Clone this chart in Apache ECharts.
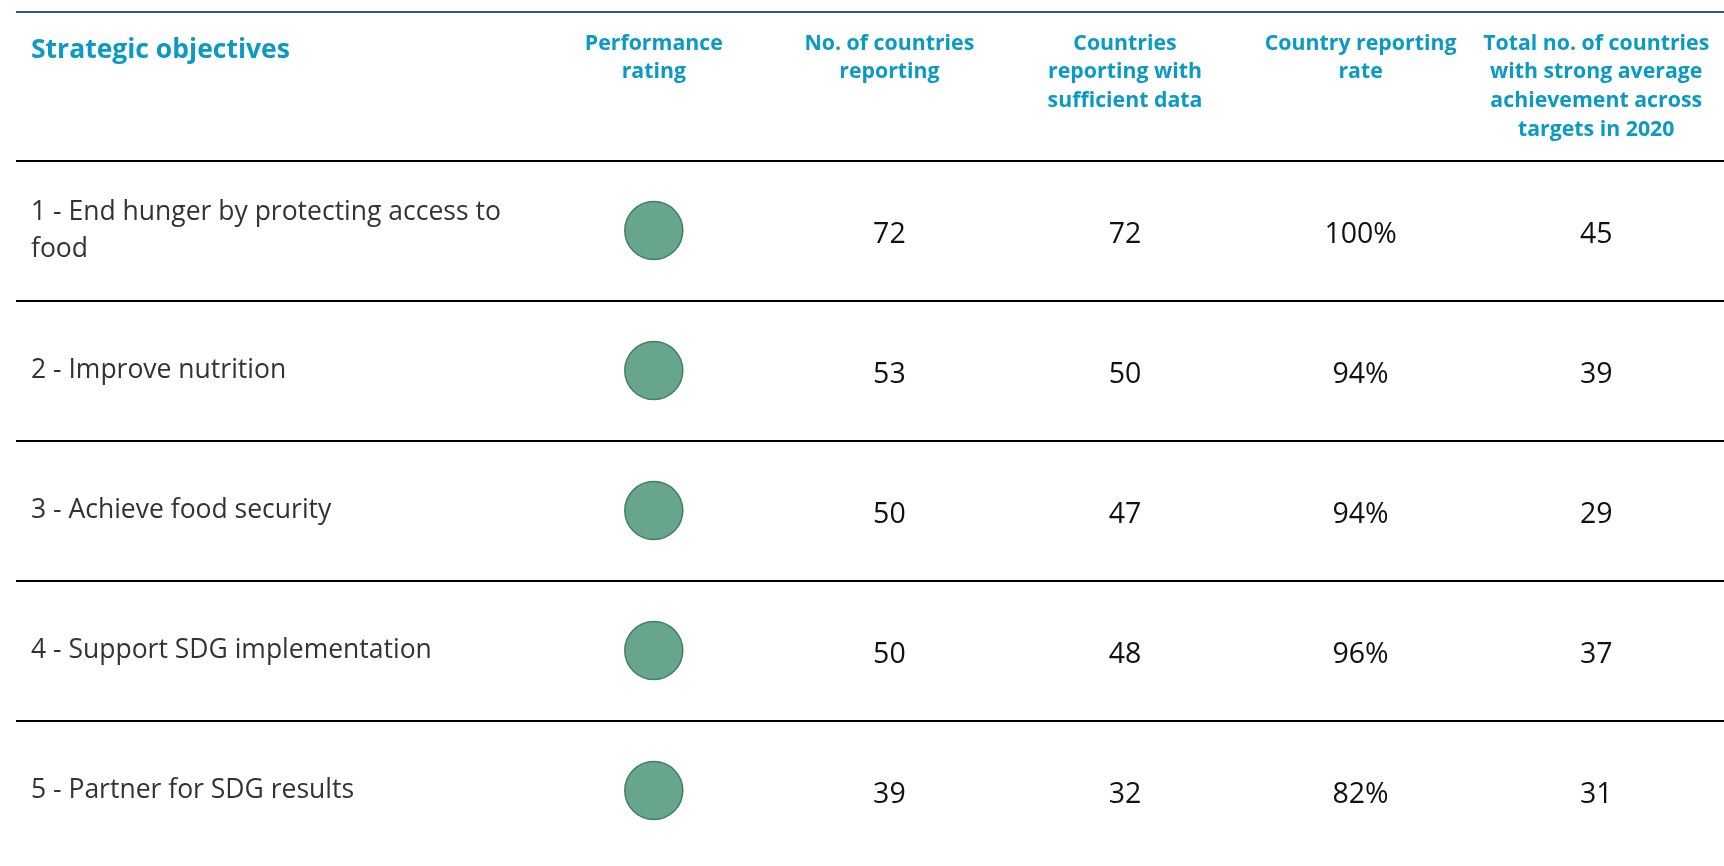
<!DOCTYPE html>
<html lang="en">

<head>
    <meta charset="UTF-8">
    <title>Strategic objectives</title>
    <style>
        html, body { margin: 0; padding: 0; background: #fff; }
        #main { width: 1724px; height: 866px; }
    </style>
    <script src="https://cdn.jsdelivr.net/npm/echarts@6/dist/echarts.min.js"></script>
</head>

<body>
<div id="main"></div>
</body>

<script type="text/javascript">
    // table data
    var objectives = [
        '1 - End hunger by protecting access to food',
        '2 - Improve nutrition',
        '3 - Achieve food security',
        '4 - Support SDG implementation',
        '5 - Partner for SDG results'
    ];
    var columns = [
        'Performance\nrating',
        'No. of countries\nreporting',
        'Countries\nreporting with\nsufficient data',
        'Country reporting\nrate',
        'Total no. of countries\nwith strong average\nachievement across\ntargets in 2020'
    ];
    var rating = ['green', 'green', 'green', 'green', 'green'];
    var reporting = [72, 53, 50, 50, 39];
    var sufficient = [72, 50, 47, 48, 32];
    var rate = [100, 94, 94, 96, 82];
    var strong = [45, 39, 29, 37, 31];

    var headColor = '#0a9ac4';
    var ratingColor = { green: '#67a68d' };

    // cells: [column, row, text]
    var cells = [];
    for (var i = 0; i < objectives.length; i++) {
        cells.push([1, i, String(reporting[i])]);
        cells.push([2, i, String(sufficient[i])]);
        cells.push([3, i, rate[i] + '%']);
        cells.push([4, i, String(strong[i])]);
    }

    var myChart = echarts.init(document.getElementById('main'));
    var option = {
        animation: false,
        backgroundColor: '#fff',
        title: {
            text: 'Strategic objectives',
            left: 31,
            top: 37,
            padding: 0,
            textStyle: {
                fontFamily: 'Open Sans',
                fontWeight: 'bold',
                fontSize: 26.5,
                color: headColor
            }
        },
        graphic: [{
            type: 'line',
            shape: { x1: 16, y1: 12, x2: 1724, y2: 12 },
            style: { stroke: '#2f5597', lineWidth: 2 }
        }],
        grid: { left: 536, right: 10, top: 160.5, bottom: 5.5 },
        xAxis: {
            type: 'category',
            position: 'top',
            data: columns,
            axisLine: { show: false },
            axisTick: { show: false },
            splitLine: { show: false },
            axisLabel: {
                interval: 0,
                verticalAlign: 'top',
                margin: 131,
                lineHeight: 28.6,
                fontFamily: 'Open Sans',
                fontWeight: 'bold',
                fontSize: 21.3,
                color: headColor
            }
        },
        yAxis: {
            type: 'category',
            inverse: true,
            data: objectives,
            axisLine: { show: false },
            axisTick: { show: false },
            splitLine: { show: false },
            axisLabel: {
                align: 'left',
                margin: 505,
                width: 490,
                overflow: 'break',
                lineHeight: 37,
                padding: [7, 0, 0, 0],
                fontFamily: 'Open Sans',
                fontSize: 26.5,
                color: '#333'
            }
        },
        series: [
            {
                // row rules
                type: 'custom',
                silent: true,
                data: objectives.map(function (d, i) { return [0, i]; }),
                renderItem: function (params, api) {
                    var c = api.coord([0, api.value(1)]);
                    var h = api.size([0, 1])[1];
                    var y = Math.round(c[1] - h / 2);
                    return {
                        type: 'line',
                        shape: { x1: 16, y1: y, x2: api.getWidth(), y2: y },
                        style: { stroke: '#000', lineWidth: 2 }
                    };
                }
            },
            {
                type: 'scatter',
                symbolSize: 58,
                data: rating.map(function (r, i) {
                    return {
                        value: [0, i],
                        itemStyle: { color: ratingColor[r], opacity: 1, borderColor: '#3f8066', borderWidth: 1.5 }
                    };
                })
            },
            {
                type: 'custom',
                silent: true,
                data: cells,
                renderItem: function (params, api) {
                    var c = api.coord([api.value(0), api.value(1)]);
                    return {
                        type: 'text',
                        x: c[0],
                        y: c[1] + 4,
                        style: {
                            text: cells[params.dataIndex][2],
                            fontFamily: 'Open Sans',
                            fontSize: 28.5,
                            fill: '#111',
                            align: 'center',
                            verticalAlign: 'middle'
                        }
                    };
                }
            }
        ]
    };
    myChart.setOption(option);
</script>

</html>
